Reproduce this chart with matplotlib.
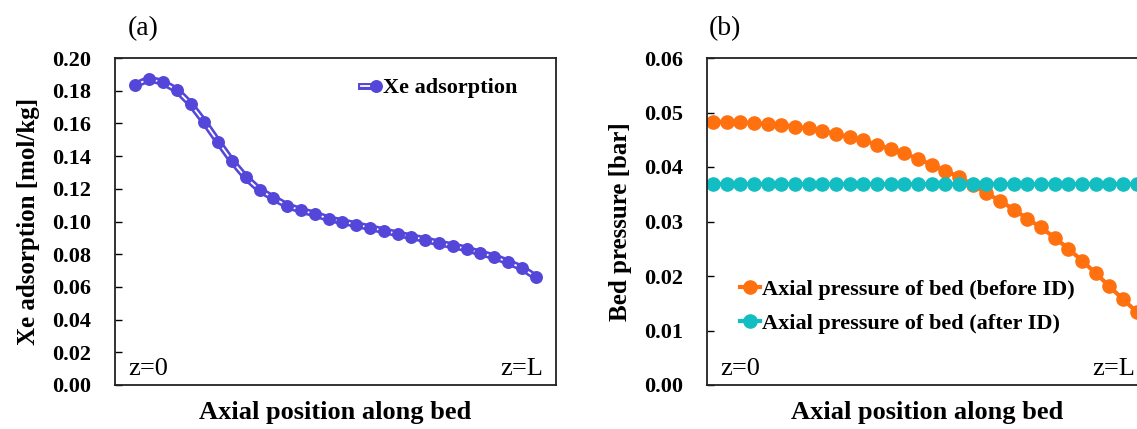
import matplotlib
matplotlib.use("Agg")
import matplotlib.pyplot as plt
import matplotlib.patheffects as pe
from matplotlib.legend_handler import HandlerTuple

plt.rcParams['font.family'] = ['Liberation Serif', 'DejaVu Serif']

# Xe loading along the bed (30 nodes)
xe_adsorption = [0.1835, 0.1872, 0.1851, 0.1804, 0.1719, 0.1609, 0.1488, 0.1370, 0.1270, 0.1193,
                 0.1144, 0.1097, 0.1068, 0.1046, 0.1017, 0.0999, 0.0981, 0.0962, 0.0944, 0.0924,
                 0.0907, 0.0889, 0.0868, 0.0852, 0.0832, 0.0807, 0.0785, 0.0752, 0.0716, 0.0661]

# Bed pressure profile [bar], before and after ID
pressure_before = [0.0483, 0.0483, 0.0482, 0.0481, 0.0479, 0.0477, 0.0474, 0.0471, 0.0466, 0.0461,
                   0.0455, 0.0449, 0.0441, 0.0433, 0.0425, 0.0415, 0.0404, 0.0393, 0.0382, 0.0367,
                   0.0352, 0.0338, 0.0322, 0.0305, 0.0289, 0.0270, 0.0250, 0.0228, 0.0205, 0.0181,
                   0.0157, 0.0134]
pressure_after = [0.0369] * 32

ticks_a = [0.00, 0.02, 0.04, 0.06, 0.08, 0.10, 0.12, 0.14, 0.16, 0.18, 0.20]
ticks_b = [0.00, 0.01, 0.02, 0.03, 0.04, 0.05, 0.06]

purple = '#5446D9'
orange = '#FF700F'
cyan = '#12BEC1'

W, H = 1137, 429


def style_axis(axis, ticks, ylabel):
    axis.set_ylim(ticks[0], ticks[-1])
    axis.set_yticks(ticks)
    axis.set_yticklabels([f"{t:.2f}" for t in ticks], fontweight="bold", size=16)
    axis.tick_params(axis='y', direction='in', length=5, width=1, pad=17)
    axis.set_xticks([])
    for spine in axis.spines.values():
        spine.set_linewidth(1.3)
        spine.set_color('#222222')
    axis.set_ylabel(ylabel, fontweight="bold", size=18)
    axis.yaxis.set_label_coords(-0.17, 0.5)
    axis.set_xlabel("Axial position along bed", fontweight="bold", size=19)
    axis.xaxis.set_label_coords(0.5, -0.05)
    axis.text(0.03, 0.03, "z=0", transform=axis.transAxes, size=19, va='baseline', ha='left')
    axis.text(0.97, 0.03, "z=L", transform=axis.transAxes, size=19, va='baseline', ha='right')


fig = plt.figure(figsize=(W / 100, H / 100), dpi=100)
ax_a = fig.add_axes([115 / W, 44 / H, 441 / W, 327 / H])
ax_b = fig.add_axes([707 / W, 44 / H, 441 / W, 327 / H])

# (a) Xe adsorption: purple line with a white core, then the markers on top
pos_a = list(range(len(xe_adsorption)))
line_a, = ax_a.plot(pos_a, xe_adsorption, color='white', linewidth=1.3,
                    path_effects=[pe.Stroke(linewidth=5, foreground=purple), pe.Normal()])
mark_a, = ax_a.plot(pos_a, xe_adsorption, 'o', color=purple, markersize=8.3)
ax_a.set_xlim(-1.47, len(xe_adsorption) - 1 + 1.47)
style_axis(ax_a, ticks_a, "Xe adsorption [mol/kg]")
ax_a.legend([(line_a, mark_a)], ["Xe adsorption"], handler_map={tuple: HandlerTuple(ndivide=None)},
            loc='center left', bbox_to_anchor=(0.558, 0.908), frameon=False, borderpad=0,
            borderaxespad=0, handlelength=0.9, handletextpad=0.1, prop={'weight': 'bold', 'size': 16})

# (b) bed pressure
pos_b = list(range(len(pressure_before)))
ax_b.plot(pos_b, pressure_before, '-o', color=orange, linewidth=3, markersize=9.5,
          label="Axial pressure of bed (before ID)")
ax_b.plot(pos_b, pressure_after, '-o', color=cyan, linewidth=3, markersize=9.5,
          label="Axial pressure of bed (after ID)")
ax_b.set_xlim(-0.44, -0.44 + 441 / 13.67)
style_axis(ax_b, ticks_b, "Bed pressure [bar]")
ax_b.legend(loc='center left', bbox_to_anchor=(0.075, 0.24), frameon=False, borderpad=0,
            borderaxespad=0, handlelength=0.9, handletextpad=0.1, labelspacing=0.6, numpoints=1,
            prop={'weight': 'bold', 'size': 16})

fig.text(143 / W, 1 - 29 / H, "(a)", size=20, ha='center', va='center')
fig.text(725 / W, 1 - 29 / H, "(b)", size=20, ha='center', va='center')

fig.savefig("out.png", dpi=100)
